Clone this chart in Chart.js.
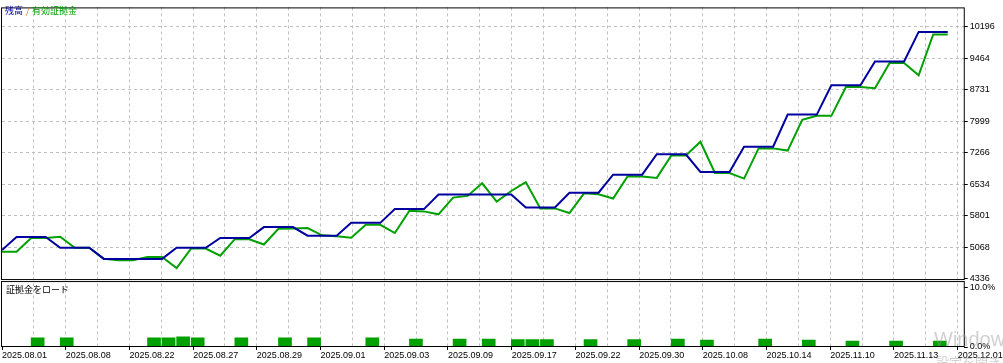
<!DOCTYPE html>
<html>
<head>
<meta charset="utf-8">
<script src="https://cdn.jsdelivr.net/npm/chart.js@4.4.1/dist/chart.umd.min.js"></script>
<style>
  html, body { margin: 0; padding: 0; background: #fff; }
  canvas { display: block; }
</style>
</head>
<body>
<canvas id="graficoBalance" width="1003" height="363"></canvas>
<script>
// datos (un punto por operación)
const balance = [
  5000, 5304, 5304, 5304, 5052, 5052, 5052, 4794, 4794, 4794,
  4794, 4794, 5052, 5052, 5052, 5281, 5281, 5281, 5533, 5533,
  5533, 5335, 5335, 5335, 5632, 5632, 5632, 5952, 5952, 5952,
  6289, 6289, 6289, 6289, 6289, 6289, 5991, 5991, 5991, 6334,
  6334, 6334, 6753, 6753, 6753, 7227, 7227, 7227, 6815, 6815,
  6815, 7403, 7403, 7403, 8149, 8149, 8149, 8829, 8829, 8829,
  9386, 9386, 9386, 10072, 10072, 10072
];
const equity = [
  4961, 4961, 5281, 5281, 5311, 5052, 5052, 4794, 4762, 4762,
  4840, 4840, 4579, 5036, 5036, 4869, 5252, 5252, 5128, 5494,
  5500, 5510, 5343, 5320, 5288, 5586, 5586, 5396, 5915, 5899,
  5831, 6220, 6259, 6552, 6128, 6373, 6579, 5968, 5968, 5860,
  6318, 6295, 6197, 6717, 6710, 6678, 7197, 7197, 7518, 6792,
  6792, 6662, 7364, 7364, 7312, 8028, 8120, 8120, 8790, 8790,
  8761, 9349, 9349, 9065, 10013, 10013
];
// carga de margen: índice de la operación y porcentaje
const marginIdx = [2, 4, 10, 11, 12, 13, 16, 19, 21, 25, 28, 31, 33, 35, 36, 37, 40, 43, 46, 48, 52, 55, 58, 61, 64];
const marginLoad = [1.53, 1.53, 1.53, 1.53, 1.70, 1.53, 1.53, 1.53, 1.53, 1.53, 1.32, 1.32, 1.32,
  1.26, 1.26, 1.26, 1.26, 1.26, 1.32, 1.15, 1.32, 1.15, 0.99, 0.99, 0.99];

const yTickLabels = ['4336', '5068', '5801', '6534', '7266', '7999', '8731', '9464', '10196'];
const marginTicks = ['0.0%', '10.0%'];
const dateLabels = ['2025.08.01', '2025.08.08', '2025.08.22', '2025.08.27', '2025.08.29', '2025.09.01',
  '2025.09.03', '2025.09.09', '2025.09.17', '2025.09.22', '2025.09.30', '2025.10.08',
  '2025.10.14', '2025.11.10', '2025.11.13', '2025.12.01'];

const FONT = '"Liberation Sans", Arial, sans-serif';
const FONT_JP = '"Noto Sans CJK JP", sans-serif';
const GRIS = '#c0c0c0';
const NADA = 'rgba(0,0,0,0)';

Chart.defaults.font.family = FONT;
Chart.defaults.font.size = 9;
Chart.defaults.color = '#000';

const puntos = serie => serie.map((v, i) => ({x: i, y: v}));

// marcos de los paneles y textos de la ventana
const paneles = {
  id: 'paneles',
  afterDraw(chart) {
    const c = chart.ctx;
    const a = chart.chartArea;
    const y = chart.scales.y, y2 = chart.scales.y2;
    c.save();
    c.strokeStyle = '#000';
    c.lineWidth = 1;
    c.strokeRect(a.left - 0.5, y.top + 0.5, a.right - a.left + 1, y.bottom - y.top - 1);
    c.strokeRect(a.left - 0.5, y2.top + 1.5, a.right - a.left + 1, y2.bottom - y2.top - 2);

    c.textBaseline = 'middle';
    c.textAlign = 'left';
    c.font = '9px ' + FONT_JP;
    c.fillStyle = '#0000a0';
    c.fillText('残高', 5, 11);
    c.fillStyle = '#d07020';
    c.fillText('/', 26, 11);
    c.fillStyle = '#00a000';
    c.fillText('有効証拠金', 32, 11);
    c.fillStyle = '#000';
    c.fillText('証拠金をロード', 6, y2.top + 10);

    // marca de agua de Windows
    c.textBaseline = 'alphabetic';
    c.fillStyle = 'rgba(150,150,150,0.45)';
    c.font = '20px ' + FONT;
    c.fillText('Windows のライセンス認証', 934, 346);
    c.font = '13px ' + FONT_JP;
    c.fillText('設定を開き、Windows をライセンス認証してください。', 936, 367);
    c.restore();
  }
};

const ctx = document.getElementById('graficoBalance').getContext('2d');

new Chart(ctx, {
  type: 'line',
  data: {
    datasets: [
      {
        label: '残高',
        data: puntos(balance),
        borderColor: '#0000a0',
        borderWidth: 2,
        pointRadius: 0,
        xAxisID: 'x',
        yAxisID: 'y'
      },
      {
        label: '有効証拠金',
        data: puntos(equity),
        borderColor: '#00a000',
        borderWidth: 2,
        pointRadius: 0,
        xAxisID: 'x',
        yAxisID: 'y'
      },
      {
        type: 'bar',
        label: '証拠金をロード',
        // la barra ocupa el tramo que sigue a la operación
        data: marginIdx.map((d, k) => ({x: d + 0.45, y: marginLoad[k]})),
        backgroundColor: '#00a000',
        barThickness: 13,
        xAxisID: 'x',
        yAxisID: 'y2'
      }
    ]
  },
  options: {
    responsive: false,
    animation: false,
    layout: {padding: {left: 2, top: 2, right: 0, bottom: 0}},
    plugins: {
      legend: {display: false},
      tooltip: {enabled: false}
    },
    scales: {
      x: {
        type: 'linear',
        display: false,
        offset: false,
        min: 0,
        max: 66.1,
        grid: {offset: false}
      },
      xg: {
        type: 'linear',
        position: 'bottom',
        min: 0,
        max: 30.19,
        afterBuildTicks: s => { s.ticks = Array.from({length: 31}, (_, k) => ({value: k})); },
        afterFit: s => { s.height = 16; },
        grid: {
          color: c => (c.tick && c.tick.value === 0) ? NADA : GRIS,
          tickColor: c => (c.tick && c.tick.value % 2 === 0) ? '#000' : NADA,
          tickLength: 3,
          tickBorderDash: []
        },
        border: {display: false, dash: [3, 3]},
        ticks: {
          autoSkip: false,
          maxRotation: 0,
          align: 'start',
          padding: 0,
          callback: v => (v % 2 === 0) ? dateLabels[v / 2] : ''
        }
      },
      y: {
        type: 'linear',
        position: 'right',
        stack: 'ventana',
        stackWeight: 277,
        min: 4302,
        max: 10642,
        afterBuildTicks: s => { s.ticks = yTickLabels.map(t => ({value: Number(t)})); },
        afterFit: s => { s.width = 35; },
        grid: {
          color: c => (c.tick && c.tick.value === 4336) ? NADA : GRIS,
          tickColor: '#000',
          tickLength: 4,
          tickBorderDash: []
        },
        border: {display: false, dash: [3, 3]},
        ticks: {
          autoSkip: false,
          padding: 2,
          callback: (v, i) => yTickLabels[i]
        }
      },
      y2: {
        type: 'linear',
        position: 'right',
        stack: 'ventana',
        stackWeight: 68,
        min: 0,
        max: 11.2,
        afterBuildTicks: s => { s.ticks = [{value: 0}, {value: 10}]; },
        afterFit: s => { s.width = 35; },
        grid: {
          drawOnChartArea: false,
          tickColor: '#000',
          tickLength: 4
        },
        border: {display: false},
        ticks: {
          autoSkip: false,
          padding: 2,
          callback: (v, i) => marginTicks[i]
        }
      }
    }
  },
  plugins: [paneles]
});
</script>
</body>
</html>
